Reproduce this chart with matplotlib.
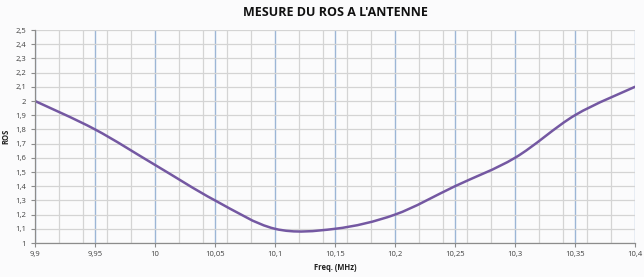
import numpy as np
import matplotlib
matplotlib.use('Agg')
import matplotlib.pyplot as plt
from matplotlib.path import Path
from matplotlib.patches import PathPatch

# Donnees
freq = [9.9, 9.95, 10.0, 10.05, 10.1, 10.15, 10.2, 10.25, 10.3, 10.35, 10.4]
ros = [2.0, 1.8, 1.55, 1.3, 1.1, 1.1, 1.2, 1.4, 1.6, 1.9, 2.1]
x_ticks = [9.9, 9.95, 10.0, 10.05, 10.1, 10.15, 10.2, 10.25, 10.3, 10.35, 10.4]
x_labels = ['9,9', '9,95', '10', '10,05', '10,1', '10,15', '10,2', '10,25', '10,3', '10,35', '10,4']
y_ticks = [1.0, 1.1, 1.2, 1.3, 1.4, 1.5, 1.6, 1.7, 1.8, 1.9, 2.0, 2.1, 2.2, 2.3, 2.4, 2.5]
y_labels = ['1', '1,1', '1,2', '1,3', '1,4', '1,5', '1,6', '1,7', '1,8', '1,9', '2',
            '2,1', '2,2', '2,3', '2,4', '2,5']

plt.rcParams['font.family'] = ['Open Sans', 'DejaVu Sans']

fig = plt.figure(figsize=(6.44, 2.77), dpi=100, facecolor='#fbfbfc')
ax = fig.add_axes([35 / 644, 1 - 243 / 277, 600 / 644, 213 / 277])
ax.set_facecolor('#fbfbfc')

# Grille secondaire (gris) et principale (bleue) comme dans Excel
ax.set_xticks(np.round(np.arange(9.9, 10.401, 0.02), 2), minor=True)
ax.grid(which='minor', axis='x', color='#d4d4d4', lw=0.9)
ax.set_xticks(x_ticks)
ax.set_xticklabels(x_labels)
ax.set_yticks(y_ticks)
ax.set_yticklabels(y_labels)
ax.grid(which='major', axis='y', color='#d4d4d4', lw=0.9)
ax.grid(which='major', axis='x', color='#9cb6d6', lw=1.0)
ax.set_axisbelow(True)

# Courbe lissee (Bezier facon Excel)
pts = np.column_stack([freq, ros])
verts = [pts[0]]
codes = [Path.MOVETO]
n = len(pts)
for i in range(n - 1):
    p0 = pts[max(i - 1, 0)]
    p1 = pts[i]
    p2 = pts[i + 1]
    p3 = pts[min(i + 2, n - 1)]
    verts += [p1 + (p2 - p0) / 6, p2 - (p3 - p1) / 6, p2]
    codes += [Path.CURVE4] * 3
ax.add_patch(PathPatch(Path(verts, codes), fill=False, edgecolor='#7458a2', lw=1.8,
                       capstyle='round', joinstyle='round'))

ax.set_xlim(9.9, 10.4)
ax.set_ylim(1.0, 2.5)

for s in ['top', 'right']:
    ax.spines[s].set_visible(False)
for s in ['left', 'bottom']:
    ax.spines[s].set_color('#8c8c8c')
    ax.spines[s].set_linewidth(0.9)

ax.tick_params(axis='both', which='major', labelsize=5.5, colors='#8c8c8c',
               labelcolor='#404040', length=3, width=0.8)
ax.tick_params(axis='x', which='minor', length=0)
ax.tick_params(axis='x', pad=3)

ax.set_title("MESURE DU ROS A L'ANTENNE", fontsize=9, fontweight='bold',
             color='#111111', pad=10)
ax.set_xlabel('Freq. (MHz)', fontsize=5.5, fontweight='bold', color='#222222', labelpad=3)
ax.set_ylabel('ROS', fontsize=5.5, fontweight='bold', color='#222222', labelpad=3)

fig.savefig('out.png', dpi=100, facecolor=fig.get_facecolor())
